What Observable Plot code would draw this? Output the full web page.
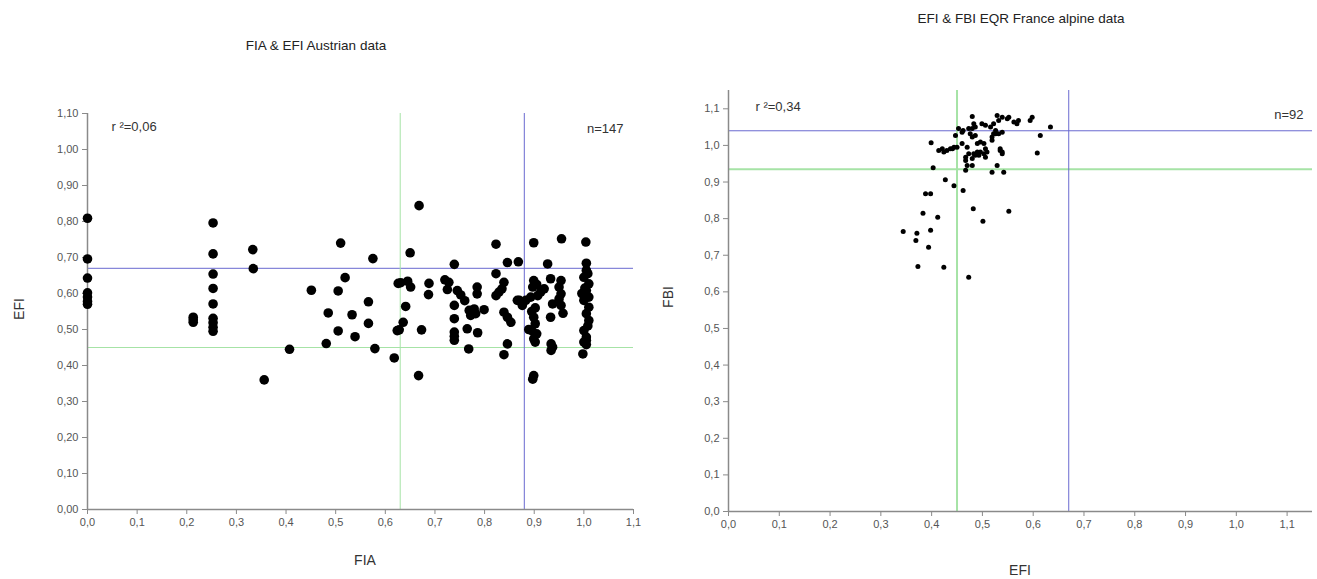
<!DOCTYPE html>
<html>
<head>
<meta charset="utf-8">
<script src="https://cdn.jsdelivr.net/npm/d3@7"></script>
<script src="https://cdn.jsdelivr.net/npm/@observablehq/plot@0.6"></script>
<style>
  html, body { margin: 0; padding: 0; background: #fff; }
  #wrap { position: relative; width: 1317px; height: 579px; overflow: hidden; font-family: "Liberation Sans", Arial, sans-serif; color: #333; }
  .abs { position: absolute; }
  .title { font-size: 13.5px; color: #222; white-space: nowrap; transform: translate(-50%, -50%); }
  .axlab { font-size: 14px; color: #333; white-space: nowrap; transform: translate(-50%, -50%); }
  .rot { transform: translate(-50%, -50%) rotate(-90deg); }
</style>
</head>
<body>
<div id="wrap"></div>
<script>
// ---------- Austrian data (left) ----------
const austFIA = [
  0,0,0,0,0,0,0,
  0.213,0.213,0.213,
  0.253,0.253,0.253,0.253,0.253,0.253,0.253,0.253,0.253,
  0.333,0.334,0.356,0.407,0.451,0.481,0.485,0.505,0.505,0.510,0.519,
  0.533,0.539,0.566,0.566,0.575,0.579,0.618,0.624,0.626,0.631,
  0.645,0.651,0.641,0.636,0.628,0.650,0.668,0.667,0.673,0.688,
  0.687,0.720,0.728,0.725,0.739,0.745,0.752,0.739,0.739,0.739,
  0.739,0.739,0.769,0.779,0.772,0.799,0.782,0.785,0.785,0.765,
  0.786,0.768,0.823,0.823,0.839,0.835,0.823,0.829,0.846,0.868,
  0.839,0.846,0.853,0.846,0.839,0.870,0.899,0.955,1.004,0.927,
  0.899,0.897,0.920,0.913,0.907,0.893,0.883,0.876,0.866,0.933,
  0.954,0.950,0.954,0.937,0.954,0.933,0.899,0.902,0.895,0.905,
  0.899,0.902,0.934,0.937,0.934,0.899,0.897,
  1.005,1.005,1.000,1.010,1.005,1.010,1.000,1.010,1.005,1.010,
  1.000,1.005,1.000,0.998,1.005,1.005,1.008,1.002,0.996,1.008,
  0.902,0.895,0.950,0.958,0.889,0.905,0.760
];
const austEFI = [
  0.809,0.696,0.643,0.602,0.590,0.578,0.570,
  0.534,0.520,0.527,
  0.796,0.710,0.654,0.614,0.571,0.531,0.519,0.506,0.495,
  0.722,0.669,0.360,0.445,0.609,0.461,0.546,0.607,0.496,0.740,0.644,
  0.541,0.480,0.577,0.517,0.697,0.447,0.421,0.497,0.628,0.630,
  0.634,0.618,0.564,0.520,0.499,0.713,0.844,0.372,0.499,0.628,
  0.597,0.638,0.631,0.611,0.681,0.608,0.596,0.567,0.530,0.493,
  0.481,0.470,0.553,0.557,0.539,0.555,0.544,0.618,0.599,0.502,
  0.491,0.446,0.737,0.655,0.631,0.613,0.594,0.604,0.686,0.688,
  0.548,0.534,0.520,0.460,0.430,0.581,0.741,0.752,0.743,0.682,
  0.636,0.618,0.613,0.604,0.594,0.590,0.581,0.567,0.581,0.641,
  0.636,0.618,0.599,0.571,0.567,0.534,0.534,0.516,0.497,0.488,
  0.474,0.465,0.460,0.451,0.442,0.372,0.362,
  0.684,0.664,0.645,0.627,0.608,0.590,0.581,0.562,0.544,0.525,
  0.497,0.479,0.465,0.432,0.470,0.458,0.655,0.615,0.600,0.510,
  0.560,0.550,0.585,0.545,0.500,0.625,0.580
];
const austThreshFIA = [0.63, 0.88];   // green, blue
const austThreshEFI = [0.45, 0.67];   // green, blue

// ---------- France alpine data (right) ----------
const franceEFI = [
  0.344,0.371,0.369,0.398,0.394,0.373,0.424,0.473,0.383,0.412,
  0.388,0.398,0.427,0.444,0.462,0.482,0.501,0.552,0.403,
  0.399,0.414,0.424,0.430,0.437,0.444,0.450,0.447,0.453,0.460,
  0.473,0.476,0.460,0.470,0.473,0.467,0.480,0.470,0.467,0.467,
  0.480,0.483,0.480,0.486,0.480,0.486,0.490,0.496,0.503,0.506,
  0.503,0.490,0.483,0.493,0.509,0.486,0.496,0.506,0.506,0.516,
  0.522,0.499,0.526,0.529,0.532,0.539,0.532,0.539,0.519,0.526,
  0.519,0.535,0.539,0.539,0.552,0.562,0.568,0.571,0.594,0.598,
  0.634,0.614,0.608,0.480,0.519,0.529,0.542,0.549,0.421,0.441,
  0.522,0.535,0.462
];
const franceFBI = [
  0.765,0.760,0.740,0.768,0.722,0.669,0.667,0.640,0.815,0.804,
  0.868,0.868,0.906,0.890,0.877,0.827,0.793,0.820,0.939,
  1.007,0.986,0.982,0.986,0.991,0.995,0.995,1.027,1.046,1.036,
  1.046,1.032,1.005,0.995,0.977,0.968,0.964,0.945,0.932,0.959,
  1.079,1.059,1.046,1.050,1.023,1.027,1.005,1.009,1.005,0.991,
  0.977,0.982,0.977,0.973,0.982,0.973,0.982,0.968,1.055,1.050,
  1.059,1.059,1.041,1.082,1.068,1.077,1.032,1.036,1.023,1.032,
  1.014,0.991,0.977,0.982,1.077,1.064,1.059,1.068,1.068,1.077,
  1.050,1.027,0.979,0.945,0.927,0.945,0.927,1.073,0.991,0.991,
  1.032,0.986,1.041
];
const franceThreshEFI = [0.45, 0.67]; // green, blue
const franceThreshFBI = [0.935, 1.04]; // green, blue

const leftTicksX = d3.range(0, 11.5).map(d => d / 10);
const leftTicksY = d3.range(0, 11.5).map(d => d / 10);
const rightTicks = d3.range(0, 11.5).map(d => d / 10);

const comma1 = d => d3.format(".1f")(d).replace(".", ",");
const comma2 = d => d3.format(".2f")(d).replace(".", ",");

const GREEN = "#a6e3a6";
const BLUE = "#6a6ad0";
const AXIS = "#8a8a8a";
const TICKTXT = "#555";

const wrap = document.getElementById("wrap");

function place(el, left, top) {
  el.style.position = "absolute";
  el.style.left = left + "px";
  el.style.top = top + "px";
  wrap.appendChild(el);
}
function label(text, cls, x, y) {
  const d = document.createElement("div");
  d.className = "abs " + cls;
  d.textContent = text;
  d.style.left = x + "px";
  d.style.top = y + "px";
  wrap.appendChild(d);
}

// ---------- Left chart ----------
const left = Plot.plot({
  width: 660, height: 579,
  marginLeft: 87, marginRight: 27, marginTop: 113, marginBottom: 70,
  style: {fontFamily: "Liberation Sans, Arial, sans-serif", background: "transparent"},
  x: {domain: [0, 1.1]},
  y: {domain: [0, 1.1]},
  marks: [
    Plot.ruleY([austThreshEFI[0]], {stroke: GREEN, strokeWidth: 1}),
    Plot.ruleY([austThreshEFI[1]], {stroke: BLUE, strokeWidth: 1}),
    Plot.ruleX([austThreshFIA[0]], {stroke: GREEN, strokeWidth: 1}),
    Plot.ruleX([austThreshFIA[1]], {stroke: BLUE, strokeWidth: 1}),
    Plot.ruleX([0], {y1: 0, y2: 1.1, stroke: AXIS, strokeWidth: 1.5}),
    Plot.ruleY([0], {x1: 0, x2: 1.1, stroke: AXIS, strokeWidth: 1.5}),
    Plot.axisX({ticks: leftTicksX, tickFormat: comma1, tickSize: 5, tickPadding: 4, fontSize: 11, stroke: AXIS, color: TICKTXT, label: null}),
    Plot.axisY({ticks: leftTicksY, tickFormat: comma2, tickSize: 5, tickPadding: 4, fontSize: 11, stroke: AXIS, color: TICKTXT, label: null}),
    Plot.dot(austFIA, {x: austFIA, y: austEFI, r: 4.8, fill: "#000", stroke: "none"}),
    Plot.text(["r ²=0,06"], {frameAnchor: "top-left", textAnchor: "start", lineAnchor: "middle", dx: 24, dy: 13, fontSize: 13, fill: "#333"}),
    Plot.text(["n=147"], {frameAnchor: "top-right", textAnchor: "end", lineAnchor: "middle", dx: -10, dy: 15, fontSize: 13, fill: "#333"})
  ]
});
place(left, 0, 0);

// ---------- Right chart ----------
const right = Plot.plot({
  width: 657, height: 579,
  marginLeft: 68, marginRight: 5, marginTop: 90, marginBottom: 68,
  style: {fontFamily: "Liberation Sans, Arial, sans-serif", background: "transparent"},
  x: {domain: [0, 1.15]},
  y: {domain: [0, 1.15]},
  marks: [
    Plot.ruleY([franceThreshFBI[0]], {stroke: GREEN, strokeWidth: 2}),
    Plot.ruleY([franceThreshFBI[1]], {stroke: BLUE, strokeWidth: 1}),
    Plot.ruleX([franceThreshEFI[0]], {stroke: GREEN, strokeWidth: 2}),
    Plot.ruleX([franceThreshEFI[1]], {stroke: BLUE, strokeWidth: 1}),
    Plot.ruleX([0], {stroke: AXIS, strokeWidth: 1.5}),
    Plot.ruleY([0], {stroke: AXIS, strokeWidth: 1.5}),
    Plot.axisX({ticks: rightTicks, tickFormat: comma1, tickSize: 5, tickPadding: 4, fontSize: 11, stroke: AXIS, color: TICKTXT, label: null}),
    Plot.axisY({ticks: rightTicks, tickFormat: comma1, tickSize: 5, tickPadding: 4, fontSize: 11, stroke: AXIS, color: TICKTXT, label: null}),
    Plot.dot(franceEFI, {x: franceEFI, y: franceFBI, r: 2.5, fill: "#000", stroke: "none"}),
    Plot.text(["r ²=0,34"], {frameAnchor: "top-left", textAnchor: "start", lineAnchor: "middle", dx: 27, dy: 16, fontSize: 13, fill: "#333"}),
    Plot.text(["n=92"], {frameAnchor: "top-right", textAnchor: "end", lineAnchor: "middle", dx: -9, dy: 24, fontSize: 13, fill: "#333"})
  ]
});
place(right, 660, 0);

// ---------- Titles and axis labels ----------
label("FIA & EFI Austrian data", "title", 316, 45);
label("EFI & FBI EQR France alpine data", "title", 1021, 18);
label("FIA", "axlab", 365, 560);
label("EFI", "axlab rot", 19, 309);
label("EFI", "axlab", 1020, 570);
label("FBI", "axlab rot", 668, 297);
</script>
</body>
</html>
